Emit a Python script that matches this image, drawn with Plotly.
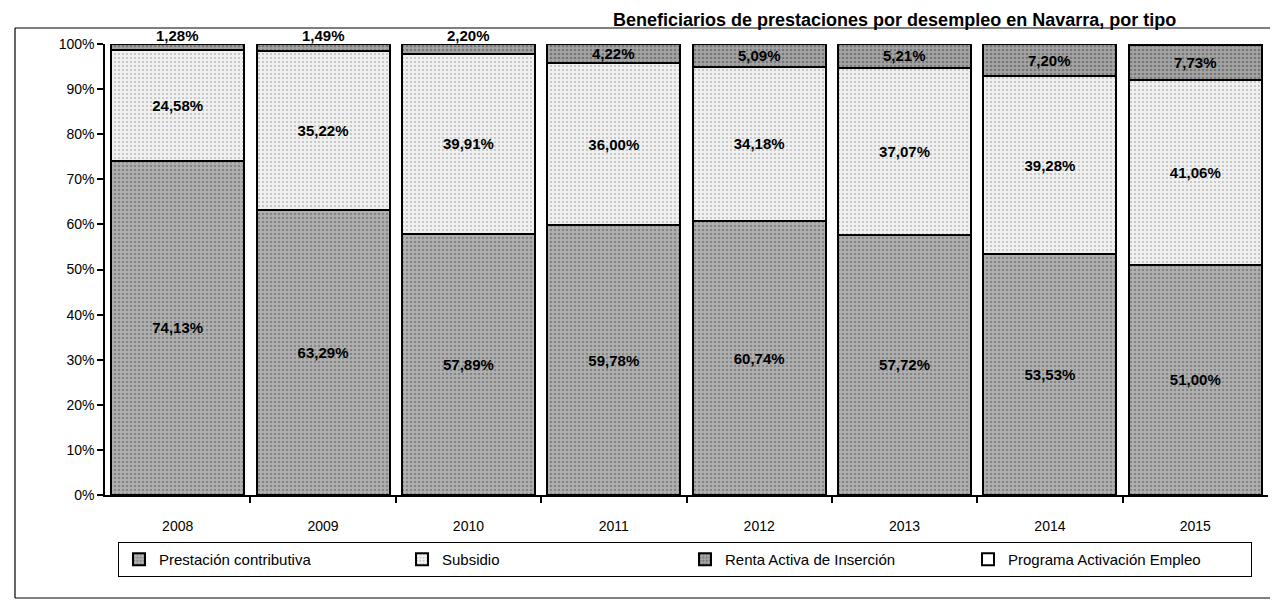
import plotly.graph_objects as go

years = ["2008", "2009", "2010", "2011", "2012", "2013", "2014", "2015"]
contributiva = [74.13, 63.29, 57.89, 59.78, 60.74, 57.72, 53.53, 51.00]
subsidio = [24.58, 35.22, 39.91, 36.00, 34.18, 37.07, 39.28, 41.06]
rai = [1.28, 1.49, 2.20, 4.22, 5.09, 5.21, 7.20, 7.73]
pae = [0.0, 0.0, 0.0, 0.0, 0.0, 0.0, 0.0, 0.21]

def fmt(v):
    return f"{v:.2f}%".replace(".", ",")

xpos = list(range(len(years)))
bounds = [i + 0.5 for i in xpos[:-1]]

FONT = "Liberation Sans, Arial, sans-serif"
line = dict(color="black", width=2)
lblfont = dict(family=FONT, size=15, color="black")

# the page adds an 8px body margin, so figure pixels = page pixels - 8
OFF = 8
W, H = 1278 - OFF, 605 - OFF
ML, MR, MT, MB = 105 - OFF, 10, 44 - OFF, 110
PH = H - MT - MB

def py(page_pix):
    return (H - MB - (page_pix - OFF)) / PH

def px(page_pix):
    return ((page_pix - OFF) - ML) / (W - ML - MR)

fig = go.Figure()
fig.add_trace(go.Bar(
    x=xpos, y=contributiva, name="Prestación contributiva",
    marker=dict(color="#9c9c9c", line=line,
                pattern=dict(shape=".", fgcolor="#5a5a5a", bgcolor="#b0b0b0", size=4, solidity=0.3)),
    text=["<b>" + fmt(v) + "</b>" for v in contributiva], textposition="inside",
    insidetextanchor="middle", textfont=lblfont,
))
fig.add_trace(go.Bar(
    x=xpos, y=subsidio, name="Subsidio",
    marker=dict(color="#e2e2e2", line=line,
                pattern=dict(shape=".", fgcolor="#8c8c8c", bgcolor="#f0f0f0", size=4, solidity=0.22)),
    text=["<b>" + fmt(v) + "</b>" for v in subsidio], textposition="inside",
    insidetextanchor="middle", textfont=lblfont,
))
fig.add_trace(go.Bar(
    x=xpos, y=rai, name="Renta Activa de Inserción",
    marker=dict(color="#8e8e8e", line=line,
                pattern=dict(shape=".", fgcolor="#4a4a4a", bgcolor="#a4a4a4", size=4, solidity=0.35)),
    textposition="none",
))
fig.add_trace(go.Bar(
    x=xpos, y=pae, name="Programa Activación Empleo",
    marker=dict(color="white", line=line),
    textposition="none",
))

annotations = []
for i in xpos:
    base = contributiva[i] + subsidio[i]
    if rai[i] < 3:
        annotations.append(dict(x=i, y=100, xref="x", yref="y", text="<b>" + fmt(rai[i]) + "</b>",
                                showarrow=False, yanchor="bottom", yshift=-2, font=lblfont))
    else:
        annotations.append(dict(x=i, y=base + rai[i] / 2, xref="x", yref="y", text="<b>" + fmt(rai[i]) + "</b>",
                                showarrow=False, yanchor="middle", font=lblfont))

annotations.append(dict(
    x=px(1178), y=py(8), xref="paper", yref="paper", xanchor="right", yanchor="top",
    text="<b>Beneficiarios de prestaciones por desempleo en Navarra, por tipo</b>",
    showarrow=False, font=dict(family=FONT, size=18, color="black")))

fig.update_layout(
    width=W, height=H,
    barmode="stack", bargap=0.085,
    paper_bgcolor="white", plot_bgcolor="white",
    margin=dict(l=ML, r=MR, t=MT, b=MB, autoexpand=False),
    font=dict(family=FONT, size=14, color="black"),
    xaxis=dict(range=[-0.5, len(years) - 0.5], tickvals=xpos, ticktext=years,
               showline=True, linecolor="black", linewidth=1.5, ticks="",
               ticklabelstandoff=17,
               minor=dict(tickvals=bounds, ticks="outside", ticklen=6, tickcolor="black", tickwidth=1.5),
               tickfont=dict(size=14), showgrid=False, zeroline=False),
    yaxis=dict(range=[0, 100], dtick=10, ticksuffix="%", showline=True, linecolor="black",
               linewidth=1.5, ticks="outside", ticklen=6, tickcolor="black", tickwidth=1.5,
               tickfont=dict(size=14), showgrid=False, zeroline=False),
    legend=dict(orientation="h", x=px(685), xanchor="center", y=py(542), yanchor="top",
                bordercolor="black", borderwidth=1, font=dict(size=15),
                entrywidth=238, traceorder="normal"),
    annotations=annotations,
    shapes=[
        dict(type="line", xref="paper", yref="paper", x0=px(15), x1=1.02, y0=py(28), y1=py(28),
             line=dict(color="black", width=1.2)),
        dict(type="line", xref="paper", yref="paper", x0=px(15), x1=px(15), y0=py(28), y1=py(598),
             line=dict(color="black", width=1.2)),
        dict(type="line", xref="paper", yref="paper", x0=px(15), x1=1.02, y0=py(598), y1=py(598),
             line=dict(color="black", width=1.2)),
    ],
)

fig.write_html("out.html")
